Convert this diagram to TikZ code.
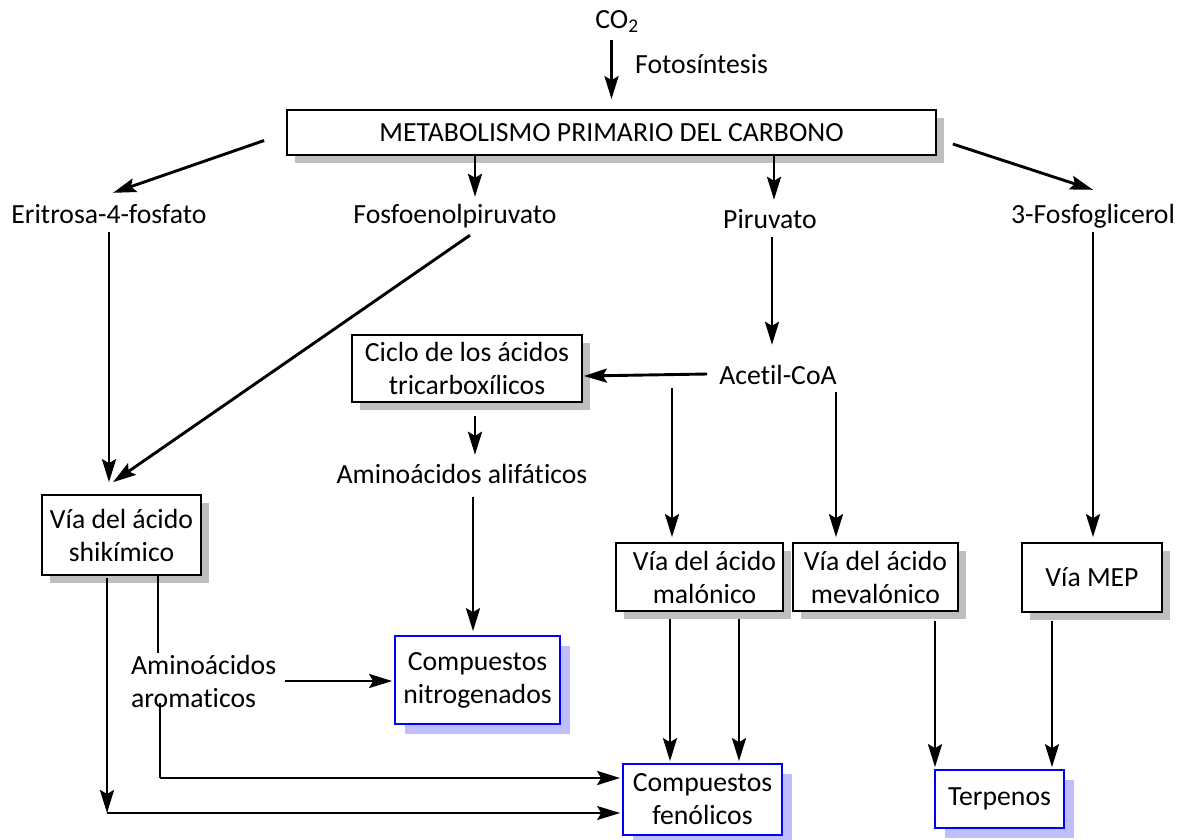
\documentclass[tikz,border=0pt]{standalone}
\usepackage{fontspec}
\setmainfont{Carlito}[Ligatures=NoCommon]
\usetikzlibrary{arrows.meta,shadows,calc}
\begin{document}
\begin{tikzpicture}[x=1pt,y=-1pt,
  font=\fontsize{27.7}{33}\selectfont,
  tip/.style={-{Stealth[length=23pt,width=14pt,inset=4pt]}},
  arr/.style={line width=2.9pt,tip},
  thinarr/.style={line width=1.5pt,tip},
  thinline/.style={line width=1.5pt},
  box/.style={draw=black,line width=1.7pt,fill=white,align=center,inner sep=0pt,
     drop shadow={shadow xshift=8pt,shadow yshift=-8pt,fill=black!25,opacity=1}},
  bbox/.style={draw=blue,line width=1.7pt,fill=white,align=center,inner sep=0pt,
     drop shadow={shadow xshift=10pt,shadow yshift=-10pt,fill=blue!25,opacity=1}},
  lbl/.style={inner sep=2pt,align=center,text height=20pt,text depth=4pt},
  lbl2/.style={inner sep=2pt,align=left}]
\useasboundingbox (0,0) rectangle (1183,839);
% nodes
\node[lbl] (co2) at (617,20) {CO\textsubscript{2}};
\node[lbl,anchor=west] (foto) at (633,65) {Fotosíntesis};
\node[box,minimum width=649pt,minimum height=45pt] (main) at (611.5,132.5) {METABOLISMO PRIMARIO DEL CARBONO};
\node[lbl] (erit) at (109,215) {Eritrosa-4-fosfato};
\node[lbl] (fosfo) at (455,215) {Fosfoenolpiruvato};
\node[lbl] (piru) at (770,220) {Piruvato};
\node[lbl] (fosfog) at (1093,215) {3-Fosfoglicerol};
\node[box,minimum width=230pt,minimum height=67pt] (ciclo) at (467,368.5) {Ciclo de los ácidos\\tricarboxílicos};
\node[lbl] (acetil) at (778,376) {Acetil-CoA};
\node[lbl] (alif) at (462,475) {Aminoácidos alifáticos};
\node[box,minimum width=159pt,minimum height=80pt] (shik) at (121.5,535) {Vía del ácido\\shikímico};
\node[box,minimum width=167pt,minimum height=68pt] (malo) at (699.5,577) {\hspace*{10pt}Vía del ácido\\\hspace*{10pt}malónico};
\node[box,minimum width=165pt,minimum height=68pt] (meva) at (875.5,577) {Vía del ácido\\mevalónico};
\node[box,minimum width=140pt,minimum height=69pt] (mep) at (1092,577.5) {Vía MEP};
\node[lbl2,anchor=west] (arom) at (129,681) {Aminoácidos\\aromaticos};
\node[bbox,minimum width=165pt,minimum height=88pt] (nitro) at (477.5,680) {Compuestos\\nitrogenados};
\node[bbox,minimum width=159pt,minimum height=71pt] (feno) at (702.5,799.5) {Compuestos\\fenólicos};
\node[bbox,minimum width=129pt,minimum height=58pt] (terp) at (999.5,799) {Terpenos};
\coordinate (c1) at (107,813);
\coordinate (c2) at (160,778);
% connectors
\draw[arr] ([yshift=-6pt]co2.south -| main.north) -- ([yshift=10pt]main.north);
\draw[arr] ([xshift=-22pt,yshift=-8pt]main.west) -- ([xshift=4pt,yshift=8pt]erit.north);
\draw[arr] ([xshift=-136.5pt]main.south) -- ([xshift=20pt,yshift=4pt]fosfo.north);
\draw[arr] ([xshift=4pt]main.south -| piru.north) -- ([xshift=4pt,yshift=6pt]piru.north);
\draw[arr] ([xshift=16pt,yshift=-11.5pt]main.east) -- ([yshift=11pt]fosfog.north);
\draw[arr] ([yshift=-3pt]erit.south) -- ([yshift=12pt]erit.south |- shik.north);
\draw[arr] ([xshift=15pt,yshift=-6pt]fosfo.south) -- ([xshift=-8.5pt,yshift=12pt]shik.north);
\draw[arr] ([xshift=2pt,yshift=-3pt]piru.south) -- ([xshift=-6pt,yshift=17pt]acetil.north);
\draw[arr] ([xshift=-10pt,yshift=2pt]acetil.west) -- ([xshift=1pt]ciclo.east |- acetil.west);
\draw[arr] ([xshift=8pt,yshift=-13pt]ciclo.south) -- ([xshift=13pt,yshift=6pt]alif.north);
\draw[arr] ([xshift=11pt,yshift=-8pt]alif.south) -- ([xshift=-4.5pt,yshift=4pt]nitro.north);
\draw[arr] ([xshift=-106pt,yshift=2pt]acetil.south) -- ([xshift=-27.5pt,yshift=5pt]malo.north);
\draw[arr] ([xshift=58pt,yshift=-2pt]acetil.south) -- ([xshift=-39.5pt,yshift=5pt]meva.north);
\draw[arr] ([yshift=-3pt]fosfog.south) -- ([xshift=1pt,yshift=5pt]mep.north);
\draw[arr] ([xshift=-29.5pt,yshift=-7pt]malo.south) -- ([xshift=-32.5pt,yshift=2pt]feno.north);
\draw[arr] ([xshift=39.5pt,yshift=-7pt]malo.south) -- ([xshift=36.5pt,yshift=2pt]feno.north);
\draw[arr] ([xshift=59.5pt,yshift=-9pt]meva.south) -- ([xshift=-64.5pt,yshift=2pt]terp.north);
\draw[arr] ([xshift=-40pt,yshift=-8pt]mep.south) -- ([xshift=52.5pt,yshift=2pt]terp.north);
\draw[arr] ([xshift=-14.5pt,yshift=-2pt]shik.south) -- (c1);
\draw[thinarr] (c1) -- ([xshift=-2pt]feno.west |- c1);
\draw[thinline] ([xshift=36.5pt]shik.south) -- ([xshift=36.5pt]shik.south |- arom.north);
\draw[thinline] ([yshift=6pt]arom.south -| c2) -- (c2);
\draw[arr] (c2) -- ([xshift=-2pt]feno.west |- c2);
\draw[arr] ([xshift=7pt]arom.east) -- ([xshift=-2pt]nitro.west |- arom.east);
\end{tikzpicture}
\end{document}
